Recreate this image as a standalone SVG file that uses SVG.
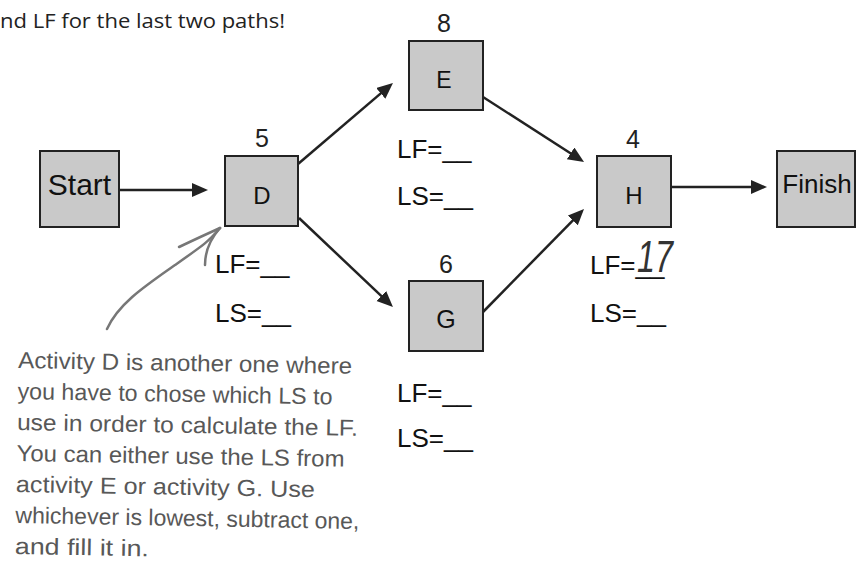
<svg xmlns="http://www.w3.org/2000/svg" width="857" height="564" viewBox="0 0 857 564">
  <defs>
    <style>
      .box { fill: #c9c9c9; stroke: #222; stroke-width: 2; }
      .nl { font-family: "Liberation Sans", Arial, sans-serif; fill: #111; text-anchor: middle; }
      .num { font-family: "Liberation Sans", Arial, sans-serif; font-size: 25px; fill: #222; text-anchor: middle; }
      .lbl { font-family: "Liberation Sans", Arial, sans-serif; font-size: 26px; fill: #111; }
      .edge { stroke: #222; stroke-width: 2.5; fill: none; marker-end: url(#ah); }
      .note { font-family: "Liberation Sans", Arial, sans-serif; font-size: 23px; fill: #585858; }
      .hand { stroke: #777; stroke-width: 2.5; fill: none; stroke-linecap: round; stroke-linejoin: round; }
    </style>
    <marker id="ah" markerUnits="userSpaceOnUse" markerWidth="18" markerHeight="16" refX="10" refY="7" orient="auto">
      <path d="M0,0 L16,7 L0,14 Z" fill="#222"/>
    </marker>
  </defs>

  <rect width="857" height="564" fill="#fff"/>

  <text x="0" y="28" font-family="'Open Sans', 'Liberation Sans', sans-serif" font-size="20" fill="#222" textLength="285" lengthAdjust="spacingAndGlyphs">nd LF for the last two paths!</text>

  <g id="connectors">
    <line class="edge" x1="119" y1="190" x2="202" y2="190"/>
    <line class="edge" x1="298" y1="164" x2="388.4" y2="86.9"/>
    <line class="edge" x1="299" y1="218" x2="388.6" y2="302.9"/>
    <line class="edge" x1="483" y1="97" x2="579.0" y2="158.8"/>
    <line class="edge" x1="483" y1="312" x2="579.8" y2="213.3"/>
    <line class="edge" x1="671" y1="187" x2="761" y2="187"/>
  </g>

  <g id="node-start">
    <rect class="box" x="40" y="151" width="79" height="76"/>
    <text class="nl" x="79.5" y="195" font-size="30">Start</text>
  </g>

  <g id="node-d">
    <text class="num" x="262" y="147">5</text>
    <rect class="box" x="225" y="156" width="73" height="70"/>
    <text class="nl" x="262" y="204" font-size="24">D</text>
    <text class="lbl" x="215" y="273">LF=__</text>
    <text class="lbl" x="215" y="322">LS=__</text>
  </g>

  <g id="node-e">
    <text class="num" x="444" y="32">8</text>
    <rect class="box" x="409" y="41" width="74" height="69"/>
    <text class="nl" x="444" y="88" font-size="23">E</text>
    <text class="lbl" x="397" y="158">LF=__</text>
    <text class="lbl" x="397" y="205">LS=__</text>
  </g>

  <g id="node-g">
    <text class="num" x="446" y="273">6</text>
    <rect class="box" x="409" y="281" width="74" height="70"/>
    <text class="nl" x="446" y="328" font-size="25">G</text>
    <text class="lbl" x="397" y="402">LF=__</text>
    <text class="lbl" x="397" y="447">LS=__</text>
  </g>

  <g id="node-h">
    <text class="num" x="633" y="148">4</text>
    <rect class="box" x="597" y="156" width="74" height="71"/>
    <text class="nl" x="634" y="204" font-size="24">H</text>
    <text class="lbl" x="590" y="274">LF=__</text>
    <text x="637" y="272" font-family="'Liberation Sans', Arial, sans-serif" font-style="italic" font-size="44" fill="#333" textLength="36" lengthAdjust="spacingAndGlyphs">17</text>
    <text class="lbl" x="590" y="322">LS=__</text>
  </g>

  <g id="node-finish">
    <rect class="box" x="777" y="151" width="78" height="76"/>
    <text class="nl" x="817" y="193" font-size="26">Finish</text>
  </g>

  <g id="annotation">
    <path class="hand" d="M107,329 C118,304 145,286 175,265 S208,242 220,228"/>
    <path class="hand" d="M179,247 Q200,237 220,228"/>
    <path class="hand" d="M205,265 Q205,245 220,228"/>
    <g transform="rotate(1 18 369)">
      <text class="note" x="18" y="368" textLength="334" lengthAdjust="spacingAndGlyphs">Activity D is another one where</text>
      <text class="note" x="18" y="399" textLength="315" lengthAdjust="spacingAndGlyphs">you have to chose which LS to</text>
      <text class="note" x="18" y="430" textLength="341" lengthAdjust="spacingAndGlyphs">use in order to calculate the LF.</text>
      <text class="note" x="18" y="461" textLength="328" lengthAdjust="spacingAndGlyphs">You can either use the LS from</text>
      <text class="note" x="18" y="492" textLength="299" lengthAdjust="spacingAndGlyphs">activity E or activity G. Use</text>
      <text class="note" x="18" y="523" textLength="344" lengthAdjust="spacingAndGlyphs">whichever is lowest, subtract one,</text>
      <text class="note" x="18" y="554" textLength="134" lengthAdjust="spacingAndGlyphs">and fill it in.</text>
    </g>
  </g>
</svg>
